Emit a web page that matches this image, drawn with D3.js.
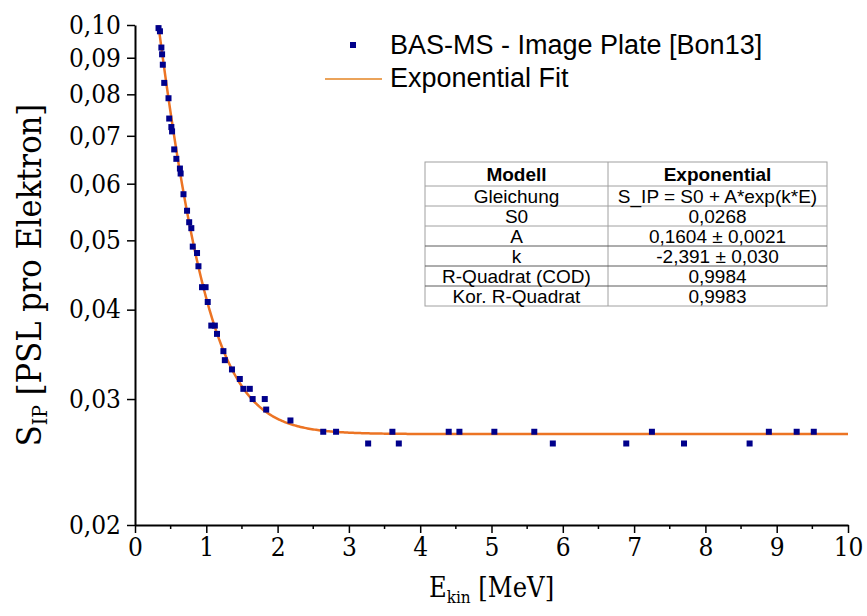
<!DOCTYPE html>
<html>
<head>
<meta charset="utf-8">
<script src="https://cdn.jsdelivr.net/npm/d3@7"></script>
<style>
  body { margin: 0; background: #fff; }
</style>
</head>
<body>
<div id="chart"></div>
<script>
const energy = [0.33, 0.35, 0.37, 0.38, 0.39, 0.41, 0.47, 0.48, 0.51, 0.52, 0.55, 0.58, 0.63, 0.64, 0.68, 0.73,
                0.76, 0.79, 0.81, 0.87, 0.89, 0.94, 0.99, 1.02, 1.07, 1.12, 1.15, 1.24, 1.26, 1.36, 1.47, 1.52,
                1.61, 1.65, 1.82, 1.84, 2.18, 2.64, 2.82, 3.27, 3.61, 3.70, 4.40, 4.55, 5.04, 5.60, 5.86, 6.89,
                7.25, 7.70, 8.62, 8.89, 9.28, 9.52];
const signal = [0.099, 0.098, 0.093, 0.091, 0.088, 0.083, 0.079, 0.074, 0.072, 0.071, 0.067, 0.065, 0.063, 0.062, 0.058, 0.055,
                0.053, 0.052, 0.049, 0.048, 0.046, 0.043, 0.043, 0.041, 0.038, 0.038, 0.037, 0.035, 0.034, 0.033, 0.032, 0.031,
                0.031, 0.030, 0.030, 0.029, 0.028, 0.027, 0.027, 0.026, 0.027, 0.026, 0.027, 0.027, 0.027, 0.027, 0.026, 0.026,
                0.027, 0.026, 0.026, 0.027, 0.027, 0.027];

// fit parameters from the table
const fitS0 = 0.0268;
const fitA = 0.1604;
const fitK = -2.391;

const xTicks = d3.range(0, 11);
const xMinorTicks = d3.range(0.5, 10, 1);
const yTicks = [0.02, 0.03, 0.04, 0.05, 0.06, 0.07, 0.08, 0.09, 0.10];

const legendLabels = ["BAS-MS - Image Plate [Bon13]", "Exponential Fit"];
const tableHeader = ["Modell", "Exponential"];
const tableRows = [
  ["Gleichung", "S_IP = S0 + A*exp(k*E)"],
  ["S0", "0,0268"],
  ["A", "0,1604 \u00b1 0,0021"],
  ["k", "-2,391 \u00b1 0,030"],
  ["R-Quadrat (COD)", "0,9984"],
  ["Kor. R-Quadrat", "0,9983"]
];

const width = 867, height = 616;
const margin = {top: 25, right: 19, bottom: 91, left: 135};
const pointColor = "#00008b";
const fitColor = "#ec7424";
const serif = "DejaVu Serif Condensed, DejaVu Serif";
const sans = "Liberation Sans, Arial, sans-serif";

const svg = d3.select("#chart").append("svg")
  .attr("width", width)
  .attr("height", height)
  .attr("viewBox", [0, 0, width, height])
  .style("display", "block");

const x = d3.scaleLinear().domain([0, 10]).range([margin.left, width - margin.right]);
const y = d3.scaleLog().domain([0.02, 0.10]).range([height - margin.bottom, margin.top]);

svg.append("clipPath").attr("id", "plot-clip")
  .append("rect")
  .attr("x", margin.left)
  .attr("y", margin.top)
  .attr("width", width - margin.left - margin.right)
  .attr("height", height - margin.top - margin.bottom);

// fit curve
const fitE = d3.range(0.3, 10.0001, 0.02);
const line = d3.line()
  .x(e => x(e))
  .y(e => y(fitS0 + fitA * Math.exp(fitK * e)));

svg.append("path")
  .attr("clip-path", "url(#plot-clip)")
  .attr("d", line(fitE))
  .attr("fill", "none")
  .attr("stroke", fitColor)
  .attr("stroke-width", 2.5);

// points
const size = 6;
svg.append("g")
  .selectAll("rect")
  .data(energy)
  .join("rect")
  .attr("x", (e) => x(e) - size / 2)
  .attr("y", (e, i) => y(signal[i]) - size / 2)
  .attr("width", size)
  .attr("height", size)
  .attr("fill", pointColor);

// axes
const comma = d => d3.format(".2f")(d).replace(".", ",");

const yAxis = svg.append("g")
  .attr("transform", `translate(${margin.left},0)`)
  .call(d3.axisLeft(y).tickValues(yTicks).tickFormat(comma).tickSize(8).tickSizeOuter(0).tickPadding(6));

const xAxis = svg.append("g")
  .attr("transform", `translate(0,${height - margin.bottom})`)
  .call(d3.axisBottom(x).tickValues(xTicks).tickFormat(d3.format("d")).tickSize(8).tickSizeOuter(0).tickPadding(5));

xAxis.selectAll(".minor")
  .data(xMinorTicks)
  .join("line")
  .attr("class", "minor")
  .attr("x1", d => x(d))
  .attr("x2", d => x(d))
  .attr("y1", 0)
  .attr("y2", 4)
  .attr("stroke", "#000")
  .attr("stroke-width", 1.5);

[yAxis, xAxis].forEach(g => {
  g.select(".domain").attr("stroke-width", 2);
  g.selectAll(".tick line").attr("stroke-width", 1.5);
  g.selectAll(".tick text")
    .attr("font-family", serif)
    .attr("font-size", 26)
    .attr("fill", "#000");
});

// axis titles
const yTitle = svg.append("text")
  .attr("transform", `translate(41,${(margin.top + height - margin.bottom) / 2}) rotate(-90)`)
  .attr("text-anchor", "middle")
  .attr("font-family", serif)
  .attr("font-size", 34);
yTitle.append("tspan").text("S");
yTitle.append("tspan").attr("font-size", 21).attr("dy", 6).text("IP");
yTitle.append("tspan").attr("dy", -6).text(" [PSL pro Elektron]");

const xTitle = svg.append("text")
  .attr("x", (margin.left + width - margin.right) / 2)
  .attr("y", 597)
  .attr("text-anchor", "middle")
  .attr("font-family", serif)
  .attr("font-size", 27);
xTitle.append("tspan").text("E");
xTitle.append("tspan").attr("font-size", 17).attr("dy", 6).text("kin");
xTitle.append("tspan").attr("dy", -6).text(" [MeV]");

// legend
const legend = svg.append("g").attr("font-family", sans).attr("font-size", 27);
legend.append("rect")
  .attr("x", 350).attr("y", 42).attr("width", size).attr("height", size)
  .attr("fill", pointColor);
legend.append("line")
  .attr("x1", 325).attr("x2", 382).attr("y1", 79).attr("y2", 79)
  .attr("stroke", "#eba35a").attr("stroke-width", 2);
legend.selectAll("text")
  .data(legendLabels)
  .join("text")
  .attr("x", 390)
  .attr("y", (d, i) => 54 + i * 33)
  .text(d => d);

// parameter table
const tbl = {x0: 425, x1: 608, x2: 827, top: 162, head: 24, row: 20};
const table = svg.append("g").attr("font-family", sans).attr("font-size", 19);
const tblBottom = tbl.top + tbl.head + tbl.row * tableRows.length;

table.append("rect")
  .attr("x", tbl.x0).attr("y", tbl.top)
  .attr("width", tbl.x2 - tbl.x0).attr("height", tblBottom - tbl.top)
  .attr("fill", "#fff").attr("stroke", "#a0a0a0");
table.append("line")
  .attr("x1", tbl.x1).attr("x2", tbl.x1).attr("y1", tbl.top).attr("y2", tblBottom)
  .attr("stroke", "#a0a0a0");
table.selectAll(".hline")
  .data(d3.range(tableRows.length))
  .join("line")
  .attr("class", "hline")
  .attr("x1", tbl.x0).attr("x2", tbl.x2)
  .attr("y1", i => tbl.top + tbl.head + i * tbl.row)
  .attr("y2", i => tbl.top + tbl.head + i * tbl.row)
  .attr("stroke", (i) => i >= 3 ? "#5a5a5a" : "#a0a0a0");

table.selectAll(".head")
  .data(tableHeader)
  .join("text")
  .attr("class", "head")
  .attr("x", (d, i) => i === 0 ? (tbl.x0 + tbl.x1) / 2 : (tbl.x1 + tbl.x2) / 2)
  .attr("y", tbl.top + tbl.head / 2 + 7)
  .attr("text-anchor", "middle")
  .attr("font-weight", "bold")
  .text(d => d);

tableRows.forEach((r, j) => {
  const cy = tbl.top + tbl.head + j * tbl.row + tbl.row / 2 + 7;
  table.append("text")
    .attr("x", (tbl.x0 + tbl.x1) / 2).attr("y", cy)
    .attr("text-anchor", "middle").text(r[0]);
  table.append("text")
    .attr("x", (tbl.x1 + tbl.x2) / 2).attr("y", cy)
    .attr("text-anchor", "middle").text(r[1]);
});
</script>
</body>
</html>
